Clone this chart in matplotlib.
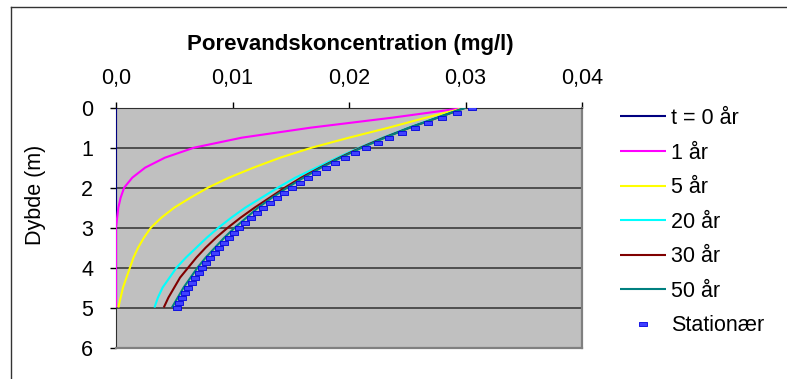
"""
Porevandskoncentration som funktion af dybde for forskellige tider,
sammenlignet med den stationære profil.
"""

import matplotlib.pyplot as plt
from matplotlib.lines import Line2D
from matplotlib.path import Path

plt.rcParams["font.family"] = ["Liberation Sans", "DejaVu Sans"]

# ---------------------------------------------------------------------
# Data
# ---------------------------------------------------------------------

# dybder (m) for de tidsafhængige kurver
dybde = [0.0, 0.25, 0.5, 0.75, 1.0, 1.25, 1.5, 1.75, 2.0, 2.25, 2.5,
         2.75, 3.0, 3.25, 3.5, 3.75, 4.0, 4.25, 4.5, 4.75, 5.0]

konc_0aar = [0.0] * 21
konc_1aar = [0.0300, 0.0237, 0.0167, 0.0108, 0.0067, 0.0042, 0.0025,
             0.0014, 0.0007, 0.0004, 0.0002, 0.0001, 0.0, 0.0, 0.0,
             0.0, 0.0, 0.0, 0.0, 0.0, 0.0]
konc_5aar = [0.0300, 0.0266, 0.0234, 0.0200, 0.0168, 0.0141, 0.0118,
             0.0097, 0.0079, 0.0064, 0.0050, 0.0039, 0.0030, 0.0024,
             0.0019, 0.0015, 0.0012, 0.0009, 0.0006, 0.0004, 0.0002]
konc_20aar = [0.0300, 0.0275, 0.0251, 0.0229, 0.0209, 0.0190, 0.0172,
              0.0154, 0.0139, 0.0125, 0.0111, 0.0099, 0.0088, 0.0078,
              0.0069, 0.0060, 0.0052, 0.0046, 0.0040, 0.0036, 0.0033]
konc_30aar = [0.0300, 0.0276, 0.0252, 0.0230, 0.0210, 0.0192, 0.0175,
              0.0159, 0.0145, 0.0132, 0.0119, 0.0107, 0.0096, 0.0086,
              0.0077, 0.0069, 0.0062, 0.0055, 0.0050, 0.0045, 0.0041]
konc_50aar = [0.0300, 0.0276, 0.0252, 0.0231, 0.0211, 0.0193, 0.0176,
              0.0161, 0.0147, 0.0134, 0.0122, 0.0112, 0.0102, 0.0093,
              0.0085, 0.0077, 0.0070, 0.0064, 0.0058, 0.0053, 0.0048]

# stationær profil, tættere punkter
dybde_stat = [0.0, 0.125, 0.25, 0.375, 0.5, 0.625, 0.75, 0.875, 1.0,
              1.125, 1.25, 1.375, 1.5, 1.625, 1.75, 1.875, 2.0, 2.125,
              2.25, 2.375, 2.5, 2.625, 2.75, 2.875, 3.0, 3.125, 3.25,
              3.375, 3.5, 3.625, 3.75, 3.875, 4.0, 4.125, 4.25, 4.375,
              4.5, 4.625, 4.75, 4.875, 5.0]
konc_stat = [0.03060, 0.02928, 0.02801, 0.02680, 0.02564, 0.02453,
             0.02346, 0.02245, 0.02148, 0.02055, 0.01966, 0.01881,
             0.01799, 0.01721, 0.01647, 0.01576, 0.01507, 0.01442,
             0.01380, 0.01320, 0.01263, 0.01208, 0.01156, 0.01106,
             0.01058, 0.01012, 0.00968, 0.00926, 0.00886, 0.00848,
             0.00811, 0.00776, 0.00742, 0.00710, 0.00680, 0.00650,
             0.00622, 0.00595, 0.00569, 0.00545, 0.00521]

x_ticks = [0.0, 0.01, 0.02, 0.03, 0.04]
x_labels = ["0,0", "0,01", "0,02", "0,03", "0,04"]
y_ticks = [0, 1, 2, 3, 4, 5, 6]

serier = [
    ("t = 0 år", konc_0aar, "#000080"),
    ("1 år", konc_1aar, "#FF00FF"),
    ("5 år", konc_5aar, "#FFFF00"),
    ("20 år", konc_20aar, "#00FFFF"),
    ("30 år", konc_30aar, "#800000"),
    ("50 år", konc_50aar, "#008080"),
]

# ---------------------------------------------------------------------
# Figur
# ---------------------------------------------------------------------

W, H = 787, 379
fig = plt.figure(figsize=(W / 100, H / 100), dpi=100)
ax = fig.add_axes([116 / W, 1 - 347.5 / H, 466 / W, 239.8 / H])
ax.set_facecolor("#C0C0C0")

for navn, konc, farve in serier:
    ax.plot(konc, dybde, color=farve, linewidth=1.5, label=navn,
            solid_capstyle="butt", zorder=3)

# lille liggende rektangel som markør
streg = Path([(-1, -0.5), (1, -0.5), (1, 0.5), (-1, 0.5), (-1, -0.5)],
             [Path.MOVETO, Path.LINETO, Path.LINETO, Path.LINETO,
              Path.CLOSEPOLY])
ax.plot(konc_stat, dybde_stat, linestyle="none", marker=streg,
        markersize=5.2, markerfacecolor="#4040FF",
        markeredgecolor="#0000E0", markeredgewidth=0.6,
        label="Stationær", zorder=4)

ax.set_xlim(0, 0.04)
ax.set_ylim(6, 0)

ax.xaxis.tick_top()
ax.set_xticks(x_ticks)
ax.set_xticklabels(x_labels)
ax.set_yticks(y_ticks)
ax.tick_params(axis="x", direction="out", length=4.3, width=1,
               pad=9, labelsize=15.5, colors="black")
ax.tick_params(axis="y", direction="out", length=4.3, width=1,
               pad=12, labelsize=15.5, colors="black")

for y in [1, 2, 3, 4, 5]:
    ax.axhline(y, color="#303030", linewidth=1.1, zorder=1)

ax.spines["top"].set_color("#303030")
ax.spines["left"].set_color("#303030")
ax.spines["bottom"].set_color("#808080")
ax.spines["right"].set_color("#808080")
ax.spines["bottom"].set_linewidth(1.6)
ax.spines["right"].set_linewidth(1.6)

fig.text(350 / W, 1 - 50 / H, "Porevandskoncentration (mg/l)",
         ha="center", va="baseline", fontsize=16, fontweight="bold")
fig.text(35 / W, 1 - 195 / H, "Dybde (m)", rotation=90,
         ha="center", va="center", fontsize=15.5)

handles, labels = ax.get_legend_handles_labels()
fig.legend(handles, labels, loc="upper left",
           bbox_to_anchor=(620 / W, 1 - 108 / H),
           bbox_transform=fig.transFigure, frameon=False,
           fontsize=15.5, handlelength=2.15, handletextpad=0.2,
           labelspacing=0.63, borderpad=0, borderaxespad=0)

# ramme om diagramområdet (kun top og venstre kant)
fig.add_artist(Line2D([11 / W, 11 / W], [0, 1 - 7.3 / H],
                      color="#333333", linewidth=1))
fig.add_artist(Line2D([11 / W, 1], [1 - 7.3 / H, 1 - 7.3 / H],
                      color="#333333", linewidth=1))

fig.savefig("out.png", dpi=100)
